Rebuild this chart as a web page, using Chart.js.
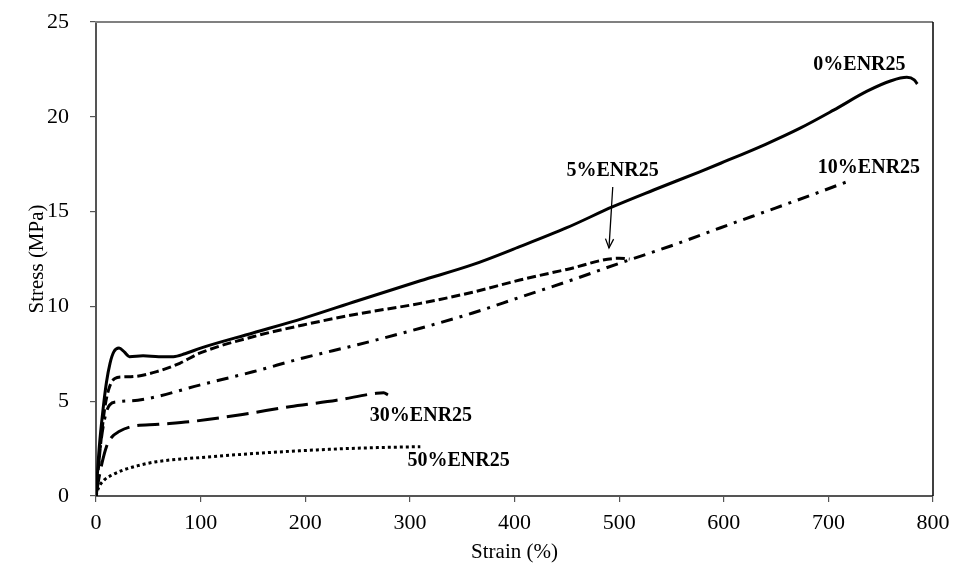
<!DOCTYPE html>
<html>
<head>
<meta charset="utf-8">
<script src="https://cdn.jsdelivr.net/npm/chart.js@4/dist/chart.umd.min.js"></script>
<style>
  html, body { margin: 0; padding: 0; background: #ffffff; }
  canvas { display: block; }
</style>
</head>
<body>
<canvas id="c" width="956" height="577"></canvas>
<script>
// ---- Data ----
const seriesNames = ['0%ENR25', '5%ENR25', '10%ENR25', '30%ENR25', '50%ENR25'];

const strain0 = [0, 3, 7, 10, 13.4, 17, 22, 27, 32, 45, 60, 74, 85, 100, 150, 198, 250, 310, 360, 405, 450, 494, 533, 577, 597, 640, 673, 705, 737, 760, 775, 782, 785];
const stress0 = [0, 2.5, 4.7, 6.0, 7.0, 7.6, 7.8, 7.6, 7.35, 7.4, 7.35, 7.35, 7.5, 7.8, 8.6, 9.37, 10.3, 11.35, 12.2, 13.15, 14.15, 15.26, 16.14, 17.1, 17.55, 18.55, 19.4, 20.35, 21.35, 21.9, 22.08, 21.95, 21.73];

const strain5 = [0, 4, 8, 12, 18, 25, 36, 58, 80, 99, 150, 198, 250, 310, 360, 405, 450, 500, 510];
const stress5 = [0, 2.5, 4.5, 5.6, 6.2, 6.28, 6.3, 6.56, 7.0, 7.53, 8.4, 9.02, 9.6, 10.16, 10.75, 11.39, 11.95, 12.54, 12.5];

const strain10 = [0, 4, 8, 13, 21, 40, 58, 99, 150, 198, 250, 310, 360, 405, 450, 500, 550, 597, 650, 690, 718];
const stress10 = [0, 2.5, 4.0, 4.8, 4.97, 5.05, 5.24, 5.85, 6.55, 7.28, 7.98, 8.85, 9.65, 10.48, 11.3, 12.27, 13.2, 14.15, 15.2, 16.0, 16.58];

const strain30 = [0, 3, 6, 10, 15, 22, 33, 60, 90, 140, 185, 230, 268, 275, 279];
const stress30 = [0, 1.0, 1.8, 2.6, 3.1, 3.4, 3.65, 3.78, 3.92, 4.3, 4.71, 5.05, 5.42, 5.45, 5.33];

const strain50 = [0, 2.2, 8, 15, 26, 40, 58, 100, 153.6, 200, 249, 290, 310];
const stress50 = [0, 0.4, 0.85, 1.1, 1.37, 1.6, 1.81, 2.03, 2.25, 2.4, 2.52, 2.58, 2.6];

const xTicks = [0, 100, 200, 300, 400, 500, 600, 700, 800];
const yTicks = [0, 5, 10, 15, 20, 25];

const xTitle = 'Strain (%)';
const yTitle = 'Stress (MPa)';

// Curve label annotations (text, data x of centre, data y of baseline)
const labelTexts = ['0%ENR25', '10%ENR25', '5%ENR25', '30%ENR25', '50%ENR25'];
const labelX = [729.7, 738.8, 493.7, 310.6, 346.5];
const labelY = [22.48, 17.04, 16.88, 3.93, 1.58];
// Arrow for 5%ENR25: from (x,y) to (x,y) in data units
const arrowFrom = [493.9, 16.3];
const arrowTo = [490.3, 13.08];

// ---- Build datasets ----
function pts(xs, ys) { return xs.map((x, i) => ({ x: x, y: ys[i] })); }
const allX = [strain0, strain5, strain10, strain30, strain50];
const allY = [stress0, stress5, stress10, stress30, stress50];
const dashes = [[], [9, 4], [12, 7, 3, 7], [22, 8], [3, 3]];
const widths = [3, 3, 3, 3, 3];

const datasets = seriesNames.map((name, i) => ({
  label: name,
  data: pts(allX[i], allY[i]),
  borderColor: '#000000',
  backgroundColor: '#000000',
  borderWidth: widths[i],
  borderDash: dashes[i],
  borderCapStyle: 'butt',
  pointRadius: 0,
  pointHoverRadius: 0,
  fill: false,
  cubicInterpolationMode: 'monotone'
}));

const SERIF = "'Liberation Serif', 'Times New Roman', serif";

const framePlugin = {
  id: 'frame',
  afterDatasetsDraw(chart) {
    const { ctx, chartArea: a } = chart;
    ctx.save();
    ctx.lineWidth = 2;
    ctx.strokeStyle = '#808080';
    ctx.beginPath();
    ctx.moveTo(a.left - 1, a.top);
    ctx.lineTo(a.right, a.top);
    ctx.stroke();
    ctx.lineWidth = 1.5;
    ctx.strokeStyle = '#000000';
    ctx.beginPath();
    ctx.moveTo(a.right, a.top);
    ctx.lineTo(a.right, a.bottom);
    ctx.stroke();
    ctx.restore();
  }
};

const labelPlugin = {
  id: 'curveLabels',
  afterDatasetsDraw(chart) {
    const { ctx, scales: { x, y } } = chart;
    ctx.save();
    ctx.fillStyle = '#000000';
    ctx.font = "bold 20px " + SERIF;
    ctx.textAlign = 'center';
    ctx.textBaseline = 'alphabetic';
    labelTexts.forEach((t, i) => {
      ctx.fillText(t, x.getPixelForValue(labelX[i]), y.getPixelForValue(labelY[i]));
    });
    // arrow
    const x1 = x.getPixelForValue(arrowFrom[0]), y1 = y.getPixelForValue(arrowFrom[1]);
    const x2 = x.getPixelForValue(arrowTo[0]), y2 = y.getPixelForValue(arrowTo[1]);
    ctx.strokeStyle = '#000000';
    ctx.lineWidth = 1.3;
    ctx.beginPath();
    ctx.moveTo(x1, y1);
    ctx.lineTo(x2, y2);
    ctx.stroke();
    const ang = Math.atan2(y2 - y1, x2 - x1);
    const L = 10, spread = 0.42;
    ctx.beginPath();
    ctx.moveTo(x2 - L * Math.cos(ang - spread), y2 - L * Math.sin(ang - spread));
    ctx.lineTo(x2, y2);
    ctx.lineTo(x2 - L * Math.cos(ang + spread), y2 - L * Math.sin(ang + spread));
    ctx.stroke();
    ctx.restore();
  }
};

new Chart(document.getElementById('c'), {
  type: 'line',
  data: { datasets: datasets },
  options: {
    responsive: false,
    animation: false,
    events: [],
    layout: { padding: { top: 22, right: 23, left: 0, bottom: 0 } },
    plugins: { legend: { display: false }, tooltip: { enabled: false } },
    scales: {
      x: {
        type: 'linear',
        min: 0, max: 800,
        afterBuildTicks: (s) => { s.ticks = xTicks.map(v => ({ value: v })); },
        afterFit: (s) => { s.height = 81; s.paddingLeft = 0; s.paddingRight = 0; },
        grid: { display: true, drawOnChartArea: false, drawTicks: true, tickLength: 6, color: '#555555', lineWidth: 1.2 },
        border: { display: true, color: '#555555', width: 2 },
        ticks: { color: '#000000', font: { family: SERIF, size: 22 }, padding: 8, maxRotation: 0, autoSkip: false },
        title: { display: true, text: xTitle, color: '#000000', font: { family: SERIF, size: 21 }, padding: { top: 0, bottom: 12 } }
      },
      y: {
        type: 'linear',
        min: 0, max: 25,
        afterBuildTicks: (s) => { s.ticks = yTicks.map(v => ({ value: v })); },
        afterFit: (s) => { s.width = 96; s.paddingTop = 0; s.paddingBottom = 0; },
        grid: { display: true, drawOnChartArea: false, drawTicks: true, tickLength: 6, color: '#555555', lineWidth: 1.2 },
        border: { display: true, color: '#555555', width: 2 },
        ticks: { color: '#000000', font: { family: SERIF, size: 22 }, padding: 21, autoSkip: false },
        title: { display: true, text: yTitle, color: '#000000', font: { family: SERIF, size: 21 }, padding: { top: 25, bottom: 0 } }
      }
    }
  },
  plugins: [framePlugin, labelPlugin]
});
</script>
</body>
</html>
